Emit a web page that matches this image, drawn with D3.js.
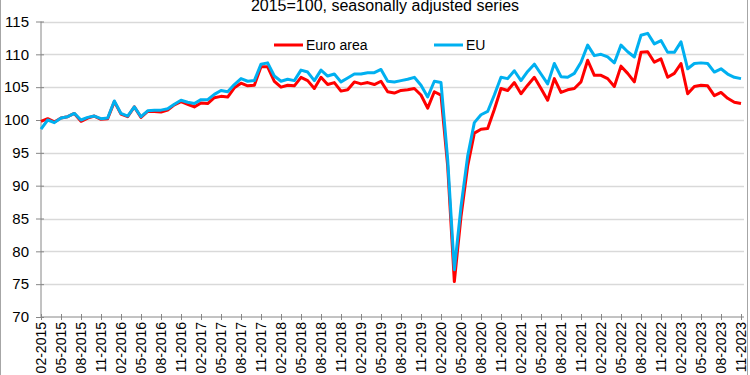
<!DOCTYPE html>
<html>
<head>
<meta charset="utf-8">
<script src="https://cdn.jsdelivr.net/npm/d3@7"></script>
<style>
  body { margin: 0; background: #fff; }
  svg { display: block; font-family: Arial, "Liberation Sans", sans-serif; }
</style>
</head>
<body>
<div id="chart"></div>
<script>
// monthly index, 2015=100, seasonally adjusted
var firstMonth = '2015-02-01';
var lastMonth = '2023-11-01';

var euroArea = [
  99.8, 100.2, 99.7, 100.3, 100.5, 101.0, 99.8, 100.3, 100.6, 100.1, 100.2, 102.8,
  100.9, 100.5, 102.0, 100.4, 101.3, 101.3, 101.2, 101.5, 102.3, 102.8, 102.4, 102.0,
  102.6, 102.5, 103.4, 103.6, 103.5, 104.9, 105.6, 105.2, 105.3, 108.1, 108.1, 105.9,
  105.0, 105.3, 105.2, 106.5, 106.0, 104.8, 106.5, 105.4, 105.7, 104.4, 104.6, 105.8,
  105.5, 105.7, 105.4, 105.9, 104.3, 104.1, 104.5, 104.6, 104.8, 103.8, 101.8, 104.3,
  103.8, 93.0, 75.4, 85.3, 93.0, 98.0, 98.6, 98.7, 101.6, 104.8, 104.5, 105.7,
  104.0, 105.3, 106.5, 104.8, 103.0, 106.3, 104.2, 104.6, 104.8, 105.8, 109.1, 106.8,
  106.8, 106.3, 105.1, 108.2, 107.1, 105.8, 110.3, 110.4, 108.8, 109.3, 106.5, 107.1,
  108.6, 104.0, 105.1, 105.3, 105.2, 103.7, 104.2, 103.3, 102.7, 102.5
];

var eu = [
  98.6, 100.0, 99.6, 100.3, 100.5, 101.0, 100.0, 100.4, 100.6, 100.2, 100.3, 102.9,
  101.0, 100.6, 102.0, 100.5, 101.4, 101.5, 101.5, 101.7, 102.4, 103.0, 102.7, 102.5,
  103.1, 103.1, 103.9, 104.5, 104.3, 105.4, 106.3, 105.9, 106.0, 108.5, 108.7, 106.7,
  105.9, 106.2, 106.0, 107.6, 107.3, 106.0, 107.6, 106.7, 107.0, 105.8, 106.4, 107.0,
  107.0, 107.2, 107.2, 107.7, 105.9, 105.8, 106.0, 106.2, 106.5, 105.3, 103.5, 105.9,
  105.7, 94.0, 77.2, 86.8, 94.5, 99.6, 100.8, 101.3, 103.8, 106.5, 106.3, 107.5,
  106.0, 107.4, 108.5, 107.0, 105.5, 108.6, 106.6, 106.5, 107.1, 108.8, 111.4, 109.8,
  110.0, 109.6, 108.7, 111.4, 110.4, 109.6, 112.9, 113.2, 111.6, 112.1, 110.3, 110.3,
  111.9, 107.8, 108.6, 108.7, 108.6, 107.3, 107.8, 107.0, 106.5, 106.3
];

var xTickLabels = [
  '02-2015', '05-2015', '08-2015', '11-2015', '02-2016', '05-2016', '08-2016', '11-2016',
  '02-2017', '05-2017', '08-2017', '11-2017', '02-2018', '05-2018', '08-2018', '11-2018',
  '02-2019', '05-2019', '08-2019', '11-2019', '02-2020', '05-2020', '08-2020', '11-2020',
  '02-2021', '05-2021', '08-2021', '11-2021', '02-2022', '05-2022', '08-2022', '11-2022',
  '02-2023', '05-2023', '08-2023', '11-2023'
];
var yTicks = [70, 75, 80, 85, 90, 95, 100, 105, 110, 115];

var series = [
  { name: 'Euro area', values: euroArea, color: '#ff0000' },
  { name: 'EU', values: eu, color: '#00b0f0' }
];

var fmt = d3.timeFormat('%m-%Y');
var months = d3.timeMonth.range(new Date(firstMonth), d3.timeMonth.offset(new Date(lastMonth), 1)).map(fmt);

var svg = d3.select('#chart').append('svg')
  .attr('width', 750)
  .attr('height', 375);

// outer frame
svg.append('rect')
  .attr('x', 0.5).attr('y', -10)
  .attr('width', 747).attr('height', 400)
  .attr('fill', 'none')
  .attr('stroke', '#a6a6a6');

var xScale = d3.scalePoint()
  .domain(months)
  .range([41, 741]);

var yScale = d3.scaleLinear()
  .domain([70, 115])
  .range([317, 21.5]);

// title (its top is cut off in the original)
svg.append('text')
  .attr('x', 385).attr('y', 11)
  .attr('text-anchor', 'middle')
  .style('font-size', '16px')
  .attr('fill', '#000')
  .text('2015=100, seasonally adjusted series');

// gridlines
svg.append('g')
  .selectAll('line')
  .data(yTicks.filter(function(d) { return d > 70; }))
  .enter()
  .append('line')
  .attr('x1', 41).attr('x2', 744)
  .attr('y1', function(d) { return Math.round(yScale(d)) + 0.5; })
  .attr('y2', function(d) { return Math.round(yScale(d)) + 0.5; })
  .attr('stroke', '#d9d9d9')
  .attr('stroke-width', 1.5);

// axes
var yAxis = d3.axisLeft(yScale)
  .tickValues(yTicks)
  .tickSize(8)
  .tickPadding(7);

var yG = svg.append('g')
  .attr('transform', 'translate(41,0)')
  .call(yAxis);
yG.select('.domain').remove();
yG.append('line')
  .attr('x1', 0).attr('x2', 0)
  .attr('y1', yScale(115)).attr('y2', yScale(70))
  .attr('stroke', '#868686');
yG.selectAll('.tick line')
  .attr('x1', 3).attr('x2', -5)
  .attr('stroke', '#868686');
yG.selectAll('.tick text')
  .attr('x', -12)
  .style('font-size', '15px')
  .attr('fill', '#000');

var xAxis = d3.axisBottom(xScale)
  .tickValues(xTickLabels)
  .tickSize(6);

var xG = svg.append('g')
  .attr('transform', 'translate(0,' + yScale(70) + ')')
  .call(xAxis);
xG.select('.domain').remove();
xG.append('line')
  .attr('x1', 41).attr('x2', 744)
  .attr('y1', 0).attr('y2', 0)
  .attr('stroke', '#868686');
xG.selectAll('.tick line')
  .attr('y1', -3).attr('y2', 3)
  .attr('stroke', '#868686');
xG.selectAll('.tick text')
  .attr('transform', 'rotate(-90)')
  .attr('x', -5)
  .attr('y', 0)
  .attr('dy', '0.35em')
  .style('text-anchor', 'end')
  .style('font-size', '14px')
  .attr('fill', '#000');

// lines
var line = d3.line()
  .x(function(d, i) { return xScale(months[i]); })
  .y(function(d) { return yScale(d); });

svg.append('g')
  .selectAll('path')
  .data(series)
  .enter()
  .append('path')
  .attr('d', function(d) { return line(d.values); })
  .attr('fill', 'none')
  .attr('stroke', function(d) { return d.color; })
  .attr('stroke-width', 3)
  .attr('stroke-linejoin', 'round');

// legend
var legendX = [274, 434];
var legend = svg.append('g')
  .selectAll('g')
  .data(series)
  .enter()
  .append('g')
  .attr('transform', function(d, i) { return 'translate(' + legendX[i] + ',45)'; });
legend.append('line')
  .attr('x1', 0).attr('x2', 29)
  .attr('stroke', function(d) { return d.color; })
  .attr('stroke-width', 3);
legend.append('text')
  .attr('x', 32)
  .attr('dy', '0.35em')
  .style('font-size', '14px')
  .attr('fill', '#000')
  .text(function(d) { return d.name; });
</script>
</body>
</html>
